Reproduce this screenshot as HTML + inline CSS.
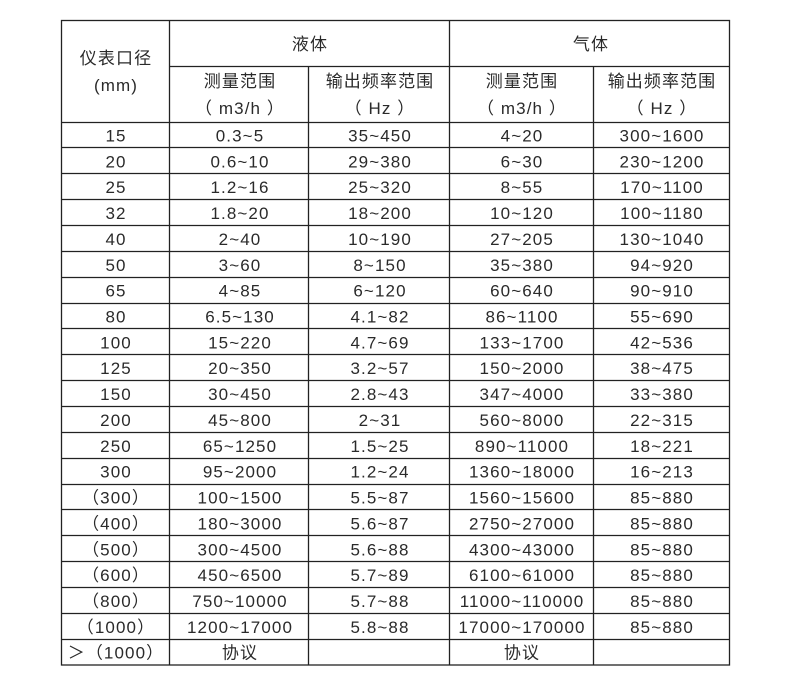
<!DOCTYPE html>
<html><head><meta charset="utf-8"><style>
html,body{margin:0;padding:0;background:#fff;}
svg text{font-family:"Liberation Sans","Noto Sans CJK SC",sans-serif;font-size:17px;letter-spacing:1.1px;fill:#2a2a2a;text-anchor:middle;}
</style></head><body>
<svg width="790" height="679" xmlns="http://www.w3.org/2000/svg">
<g stroke="#222" stroke-width="1.3" fill="none">
<rect x="61.5" y="20.5" width="668" height="644.5"/>
<line x1="169.5" y1="20" x2="169.5" y2="665"/>
<line x1="449.5" y1="20" x2="449.5" y2="665"/>
<line x1="308.5" y1="66" x2="308.5" y2="665"/>
<line x1="593.5" y1="66" x2="593.5" y2="665"/>
<line x1="169" y1="66.5" x2="730" y2="66.5"/>
<g id="rows"></g>
</g>
<g id="txt">
<text x="116" y="64">仪表口径</text>
<text x="116" y="91">(mm)</text>
<text x="310" y="50">液体</text>
<text x="591" y="50">气体</text>
<text x="240" y="87">测量范围</text>
<text x="240" y="114">（ m3/h ）</text>
<text x="380" y="87">输出频率范围</text>
<text x="380" y="114">（ Hz ）</text>
<text x="522" y="87">测量范围</text>
<text x="522" y="114">（ m3/h ）</text>
<text x="662" y="87">输出频率范围</text>
<text x="662" y="114">（ Hz ）</text>
</g>
</svg>
<script>
var d=[["15","0.3~5","35~450","4~20","300~1600"],["20","0.6~10","29~380","6~30","230~1200"],["25","1.2~16","25~320","8~55","170~1100"],["32","1.8~20","18~200","10~120","100~1180"],["40","2~40","10~190","27~205","130~1040"],["50","3~60","8~150","35~380","94~920"],["65","4~85","6~120","60~640","90~910"],["80","6.5~130","4.1~82","86~1100","55~690"],["100","15~220","4.7~69","133~1700","42~536"],["125","20~350","3.2~57","150~2000","38~475"],["150","30~450","2.8~43","347~4000","33~380"],["200","45~800","2~31","560~8000","22~315"],["250","65~1250","1.5~25","890~11000","18~221"],["300","95~2000","1.2~24","1360~18000","16~213"],["（300）","100~1500","5.5~87","1560~15600","85~880"],["（400）","180~3000","5.6~87","2750~27000","85~880"],["（500）","300~4500","5.6~88","4300~43000","85~880"],["（600）","450~6500","5.7~89","6100~61000","85~880"],["（800）","750~10000","5.7~88","11000~110000","85~880"],["（1000）","1200~17000","5.8~88","17000~170000","85~880"],["＞（1000）","协议","","协议",""]];
var xs=[116,240,380,522,662],ns="http://www.w3.org/2000/svg",rows=document.getElementById("rows"),tx=document.getElementById("txt");
for(var i=0;i<=20;i++){var y=121.5+i*25.86;var l=document.createElementNS(ns,"line");l.setAttribute("x1",61);l.setAttribute("x2",730);l.setAttribute("y1",Math.round(y)+0.5);l.setAttribute("y2",Math.round(y)+0.5);rows.appendChild(l);}
for(var i=0;i<21;i++){for(var j=0;j<5;j++){var t=document.createElementNS(ns,"text");t.setAttribute("x",xs[j]);t.setAttribute("y",(122+i*25.86+19.5).toFixed(1));t.textContent=d[i][j];tx.appendChild(t);}}
</script>
</body></html>
